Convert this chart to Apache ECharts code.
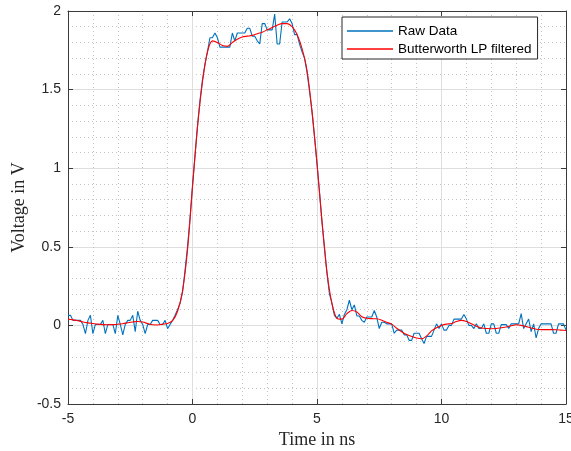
<!DOCTYPE html>
<html lang="en">
<head>
  <meta charset="UTF-8">
  <title>Pulse</title>
  <script src="https://cdn.jsdelivr.net/npm/echarts@6/dist/echarts.min.js"></script>
  <style>
    html, body { margin: 0; padding: 0; background: #fff; }
  </style>
</head>
<body>
  <div id="app" style="width: 571px; height: 451px;"></div>
  <script>
    // sample grids (ns)
    var rawStart = -5
    var rawStep = 0.1
    var filtStart = -5
    var filtStep = 0.2

    // raw samples, one row per ns
    var rawData = [
      0.064, 0.064, 0.032, 0.032, 0.032, 0.032, 0.006, -0.053, 0.032, 0.064,
      -0.053, 0.006, 0.006, 0.006, 0.032, -0.053, 0.006, 0.006, 0.006, -0.053,
      0.064, 0.006, -0.06, 0.006, 0.032, 0.032, 0.064, -0.04, 0.09, 0.032,
      0.006, -0.053, 0.006, 0.006, 0.032, 0.032, 0.032, 0.006, 0.006, 0.032,
      -0.021, 0.006, 0.032, 0.064, 0.10, 0.14, 0.21, 0.35, 0.50, 0.68,
      0.89, 1.08, 1.27, 1.43, 1.56, 1.66, 1.74, 1.83, 1.83, 1.86,
      1.83, 1.77, 1.77, 1.77, 1.77, 1.77, 1.86, 1.81, 1.86, 1.86,
      1.86, 1.86, 1.89, 1.89, 1.84, 1.84, 1.81, 1.79, 1.92, 1.92,
      1.88, 1.88, 1.88, 1.98, 1.79, 1.79, 1.93, 1.93, 1.93, 1.95,
      1.92, 1.85, 1.85, 1.79, 1.74, 1.70, 1.61, 1.49, 1.36, 1.20,
      1.03, 0.85, 0.66, 0.50, 0.33, 0.20, 0.14, 0.064, 0.045, 0.07,
      0.01, 0.07, 0.10, 0.16, 0.10, 0.13, 0.06, 0.06, 0.032, 0.02,
      0.053, 0.053, 0.053, 0.095, 0.053, -0.02, 0.02, 0.02, 0.01, 0.01,
      0.01, -0.05, -0.03, -0.03, -0.03, -0.06, -0.06, -0.095, -0.095, -0.05,
      -0.05, -0.05, -0.085, -0.115, -0.07, -0.07, -0.07, -0.03, 0.01, -0.02,
      0.01, -0.03, -0.03, 0.0, 0.0, 0.04, 0.04, 0.04, 0.04, 0.07,
      0.04, 0.0, 0.0, -0.02, 0.01, -0.02, -0.02, 0.01, -0.05, -0.05,
      0.01, 0.01, -0.05, -0.05, 0.005, 0.005, 0.005, -0.02, 0.01, 0.01,
      0.01, 0.01, 0.075, -0.02, 0.01, 0.04, -0.04, 0.01, -0.08, -0.02,
      0.01, 0.01, 0.01, 0.01, 0.01, -0.05, -0.05, 0.01, 0.01, 0.01,
      -0.03
    ]

    // Butterworth output, every 0.2 ns
    var filtData = [
      0.04, 0.035, 0.03, 0.022, 0.016,
      0.012, 0.008, 0.005, 0.004, 0.005,
      0.007, 0.011, 0.017, 0.022, 0.025,
      0.022, 0.012, 0.004, 0.003, 0.008,
      0.012, 0.03, 0.09, 0.22, 0.48,
      0.88, 1.26, 1.55, 1.74, 1.81,
      1.80, 1.78, 1.775, 1.80, 1.82,
      1.835, 1.84, 1.845, 1.855, 1.865,
      1.88, 1.895, 1.91, 1.92, 1.92,
      1.90, 1.85, 1.76, 1.62, 1.36,
      1.03, 0.66, 0.34, 0.14, 0.045,
      0.04, 0.075, 0.095, 0.085, 0.055,
      0.045, 0.043, 0.042, 0.033, 0.02,
      0.008, -0.018, -0.04, -0.058, -0.07,
      -0.08, -0.085, -0.068, -0.035, -0.015,
      0.0, 0.008, 0.012, 0.025, 0.032,
      0.025, 0.01, -0.005, -0.016, -0.02,
      -0.021, -0.02, -0.015, -0.01, -0.002,
      0.004, 0.0, -0.008, -0.016, -0.024,
      -0.027, -0.027, -0.027, -0.028, -0.03,
      -0.032
    ]

    var xTicks = [-5, 0, 5, 10, 15]
    var yTicks = [-0.5, 0, 0.5, 1, 1.5, 2]

    function pairs(start, step, vals) {
      var out = []
      for (var i = 0; i < vals.length; i++) {
        out.push([+(start + i * step).toFixed(3), vals[i]])
      }
      return out
    }

    var axisColor = '#3a3a3a'
    var labelFont = { color: '#262626', fontSize: 14, fontFamily: 'Liberation Sans' }

    var mCharts = echarts.init(document.querySelector('#app'))
    var option = {
      animation: false,
      grid: { left: 68, right: 5, top: 11, bottom: 47, containLabel: false, outerBoundsMode: 'none' },
      legend: {
        orient: 'vertical',
        left: 342,
        top: 17,
        padding: [7, 6, 3, 5],
        icon: 'rect',
        itemWidth: 46,
        itemHeight: 1.5,
        itemGap: 4,
        backgroundColor: '#fff',
        borderColor: '#262626',
        borderWidth: 1,
        textStyle: { color: '#000', fontSize: 13.5, fontFamily: 'Liberation Sans', lineHeight: 14 },
        data: ['Raw Data', 'Butterworth LP filtered']
      },
      xAxis: [
        {
          type: 'value',
          min: xTicks[0],
          max: xTicks[xTicks.length - 1],
          interval: 5,
          name: 'Time in ns',
          nameLocation: 'middle',
          nameGap: 27,
          nameTextStyle: { color: '#262626', fontSize: 18, fontFamily: 'Liberation Serif' },
          axisLine: { show: true, onZero: false, lineStyle: { color: axisColor, width: 1 } },
          axisTick: { inside: true, length: 5, lineStyle: { color: axisColor } },
          axisLabel: Object.assign({ margin: 8 }, labelFont),
          splitLine: { show: true, lineStyle: { color: '#dedede', width: 1 } },
          minorTick: { show: false, splitNumber: 5 },
          minorSplitLine: { show: true, lineStyle: { color: '#c4c4c4', type: [1, 3], width: 1 } }
        },
        {
          type: 'value',
          position: 'top',
          min: xTicks[0],
          max: xTicks[xTicks.length - 1],
          interval: 5,
          axisLine: { show: true, onZero: false, lineStyle: { color: axisColor, width: 1 } },
          axisTick: { show: true, inside: true, length: 5, lineStyle: { color: axisColor } },
          axisLabel: { show: false },
          splitLine: { show: false }
        }
      ],
      yAxis: [
        {
          type: 'value',
          min: yTicks[0],
          max: yTicks[yTicks.length - 1],
          interval: 0.5,
          name: 'Voltage in V',
          nameLocation: 'middle',
          nameGap: 40,
          nameMoveOverlap: false,
          nameTextStyle: { color: '#262626', fontSize: 18, fontFamily: 'Liberation Serif' },
          axisLine: { show: true, onZero: false, lineStyle: { color: axisColor, width: 1 } },
          axisTick: { show: true, inside: true, length: 5, lineStyle: { color: axisColor } },
          axisLabel: Object.assign({ margin: 7 }, labelFont),
          splitLine: { show: true, lineStyle: { color: '#dedede', width: 1 } },
          minorTick: { show: false, splitNumber: 5 },
          minorSplitLine: { show: true, lineStyle: { color: '#c4c4c4', type: [1, 3], width: 1 } }
        },
        {
          type: 'value',
          position: 'right',
          min: yTicks[0],
          max: yTicks[yTicks.length - 1],
          interval: 0.5,
          axisLine: { show: true, onZero: false, lineStyle: { color: axisColor, width: 1 } },
          axisTick: { show: true, inside: true, length: 5, lineStyle: { color: axisColor } },
          axisLabel: { show: false },
          splitLine: { show: false }
        }
      ],
      series: [
        {
          name: 'Raw Data',
          type: 'line',
          xAxisIndex: 0,
          yAxisIndex: 0,
          symbol: 'none',
          color: '#0072BD',
          lineStyle: { color: '#0072BD', width: 1.1 },
          data: pairs(rawStart, rawStep, rawData),
          z: 2
        },
        {
          name: 'Butterworth LP filtered',
          type: 'line',
          xAxisIndex: 0,
          yAxisIndex: 0,
          symbol: 'none',
          smooth: 0.3,
          color: '#ff0000',
          lineStyle: { color: '#ff0000', width: 1.1 },
          data: pairs(filtStart, filtStep, filtData),
          z: 3
        }
      ]
    }
    mCharts.setOption(option)
  </script>
</body>
</html>
